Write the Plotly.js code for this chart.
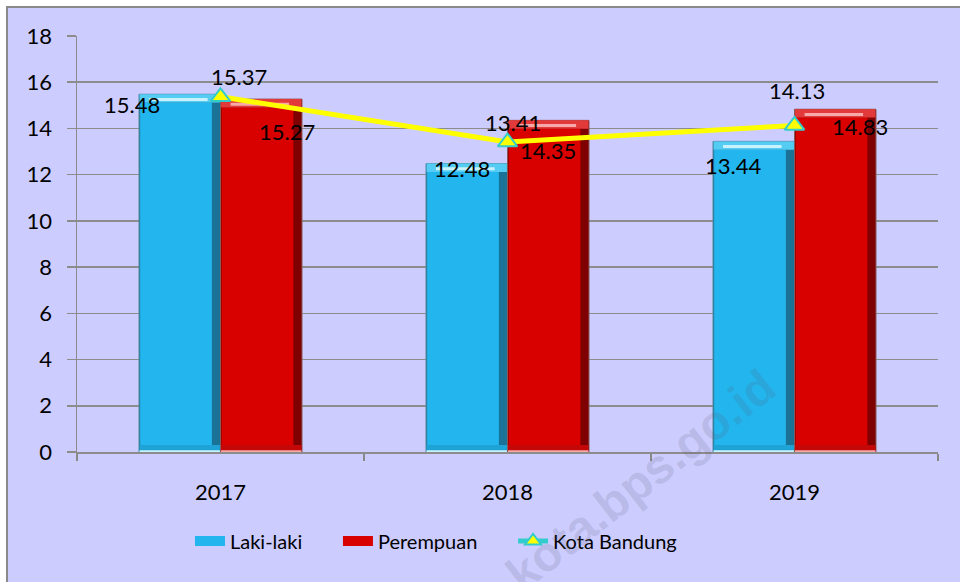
<!DOCTYPE html>
<html>
<head>
<meta charset="utf-8">
<script src="https://cdn.plot.ly/plotly-3.0.1.min.js"></script>
<style>
  html, body { margin: 0; padding: 0; background: #ffffff; }
  #wrap { position: relative; width: 960px; height: 582px; overflow: hidden; }
  #bg { position: absolute; left: 6px; top: 6px; right: 0; bottom: 0;
        background: #CCCCFF; border-left: 2px solid #8a8a8a; border-top: 2px solid #8a8a8a; }
  #chart { position: absolute; left: 0; top: 0; width: 960px; height: 582px; }
</style>
</head>
<body>
<div id="wrap"><div id="bg"></div><div id="chart"></div></div>
<script>
// ---- data ----
const years = ['2017', '2018', '2019'];
const lakiLaki = [15.48, 12.48, 13.44];
const perempuan = [15.27, 14.35, 14.83];
const kotaBandung = [15.37, 13.41, 14.13];
const yTicks = [0, 2, 4, 6, 8, 10, 12, 14, 16, 18];
const seriesNames = ['Laki-laki', 'Perempuan', 'Kota Bandung'];

// label offsets in pixels (position only)
const lakiOff = [[-89, -10], [-46, -5], [-62, -24]];
const perOff = [[66, -32], [40, -30], [65, -17]];
const kotaOff = [[18, 20], [5, 20], [2, 35]];

const FONT = 'Lato, "Open Sans", sans-serif';
const NB = '\u00a0';

// geometry (category units / data units)
const BW = 0.284;          // bar width
const EDGE = 0.030;        // dark right edge width
const TOP = 0.36;          // top bevel height
const BOT = 0.30;          // bottom bevel height

function bevelBars(name, vals, offset, cols, pad) {
  const idx = years.map((_, i) => i);
  const common = { type: 'bar', x: idx, hoverinfo: 'skip', showlegend: false };
  return [
    Object.assign({}, common, { name: name, y: vals, width: BW, offset: offset,
      marker: { color: cols.edge, line: { color: cols.outline, width: 1 } } }),
    Object.assign({}, common, { name: name, y: vals.map(v => v - TOP - BOT), base: BOT,
      width: BW - EDGE - 0.004, offset: offset + 0.004,
      marker: { color: cols.main, line: { width: 0 } } }),
    Object.assign({}, common, { name: name, y: vals.map(() => BOT), base: 0,
      width: BW - 0.004, offset: offset + 0.002,
      marker: { color: cols.bottom, line: { width: 0 } } }),
    Object.assign({}, common, { name: name, y: vals.map(() => 0.08), base: 0,
      width: BW - 0.004, offset: offset + 0.002,
      marker: { color: cols.shine, line: { width: 0 } } }),
    Object.assign({}, common, { name: name, y: vals.map(() => TOP), base: vals.map(v => v - TOP),
      width: BW - 0.004, offset: offset + 0.002,
      marker: { color: cols.top, line: { width: 0 } } }),
    Object.assign({}, common, { name: name, y: vals.map(() => 0.13), base: vals.map(v => v - TOP + 0.07),
      width: BW - 0.08, offset: offset + 0.035,
      marker: { color: cols.shine, line: { width: 0 } } }),
    // legend entry (wide swatch)
    { type: 'scatter', mode: 'lines', name: name + NB.repeat(pad), x: [null], y: [null], hoverinfo: 'skip',
      showlegend: true, line: { color: cols.main, width: 10 } }
  ];
}

const traces = [].concat(
  bevelBars(seriesNames[0], lakiLaki, -BW, {
    main: '#22B5EE', edge: '#1A7297', outline: '#5a8fa3', top: '#55CCF4', bottom: '#1FA3D6', shine: '#C8F3FD'
  }, 6),
  bevelBars(seriesNames[1], perempuan, 0, {
    main: '#D90000', edge: '#7E0000', outline: '#8a5a5a', top: '#E23A3A', bottom: '#C40808', shine: '#F7A8A8'
  }, 6),
  [
    {
      type: 'scatter', mode: 'lines+markers', name: seriesNames[2], x: [0, 1, 2], y: kotaBandung,
      line: { color: '#FFFF00', width: 5 },
      marker: { symbol: 'triangle-up', size: 17, color: '#FFFF00', line: { color: '#33CCCC', width: 2 } },
      showlegend: false, hoverinfo: 'skip'
    },
    {
      type: 'scatter', mode: 'lines+markers', name: seriesNames[2], x: [null], y: [null],
      line: { color: '#33CCCC', width: 5 },
      marker: { symbol: 'triangle-up', size: 14, color: '#FFFF00', line: { color: '#33CCCC', width: 2 } },
      showlegend: true, hoverinfo: 'skip'
    }
  ]
);

const annotations = [];
function addLabels(vals, offs) {
  vals.forEach((v, i) => {
    annotations.push({
      x: i, y: v, xref: 'x', yref: 'y', text: v.toFixed(2), showarrow: false,
      xshift: offs[i][0], yshift: offs[i][1], xanchor: 'center', yanchor: 'middle',
      font: { family: FONT, size: 22, color: '#000' }
    });
  });
}
addLabels(lakiLaki, lakiOff);
addLabels(perempuan, perOff);
addLabels(kotaBandung, kotaOff);

// watermark
annotations.push({
  xref: 'paper', yref: 'paper', x: (640 - 77) / 861, y: (452 - 480) / 416,
  text: 'kota.bps.go.id', showarrow: false, textangle: -38,
  font: { family: '"Liberation Sans", Arial, sans-serif', size: 48, color: 'rgba(90,90,110,0.17)', weight: 'bold' },
  xanchor: 'center', yanchor: 'middle'
});

const layout = {
  width: 960, height: 582,
  margin: { l: 77, r: 22, t: 36, b: 130 },
  paper_bgcolor: 'rgba(0,0,0,0)',
  plot_bgcolor: 'rgba(0,0,0,0)',
  barmode: 'overlay',
  font: { family: FONT, size: 22, color: '#000' },
  xaxis: {
    type: 'linear', range: [-0.5, 2.5], autorange: false,
    tickvals: [0, 1, 2], ticktext: years, ticks: '', showgrid: false,
    showline: true, linecolor: '#8c8c8c', linewidth: 1.5, zeroline: false,
    tickfont: { family: FONT, size: 22, color: '#000' }, ticklabelstandoff: 20, tickangle: 0,
    minor: { tickvals: [-0.5, 0.5, 1.5, 2.5], ticks: 'outside', ticklen: 7, tickcolor: '#888', tickwidth: 1.5, showgrid: false }
  },
  yaxis: {
    range: [0, 18], autorange: false, tickvals: yTicks, ticks: 'outside', ticklen: 9, tickcolor: '#8c8c8c', tickwidth: 1.5,
    showline: true, linecolor: '#8c8c8c', linewidth: 1.5, gridcolor: '#8c8c8c', gridwidth: 1.5,
    zeroline: false, tickfont: { family: FONT, size: 22, color: '#000' }, ticklabelstandoff: 10
  },
  legend: {
    orientation: 'h', x: (190 - 77) / 861, xanchor: 'left', y: (452 - 541) / 416, yanchor: 'middle',
    font: { family: FONT, size: 20, color: '#000' }, bgcolor: 'rgba(0,0,0,0)', traceorder: 'normal'
  },
  annotations: annotations,
  showlegend: true
};

Plotly.newPlot('chart', traces, layout, { displayModeBar: false, staticPlot: true });
</script>
</body>
</html>
